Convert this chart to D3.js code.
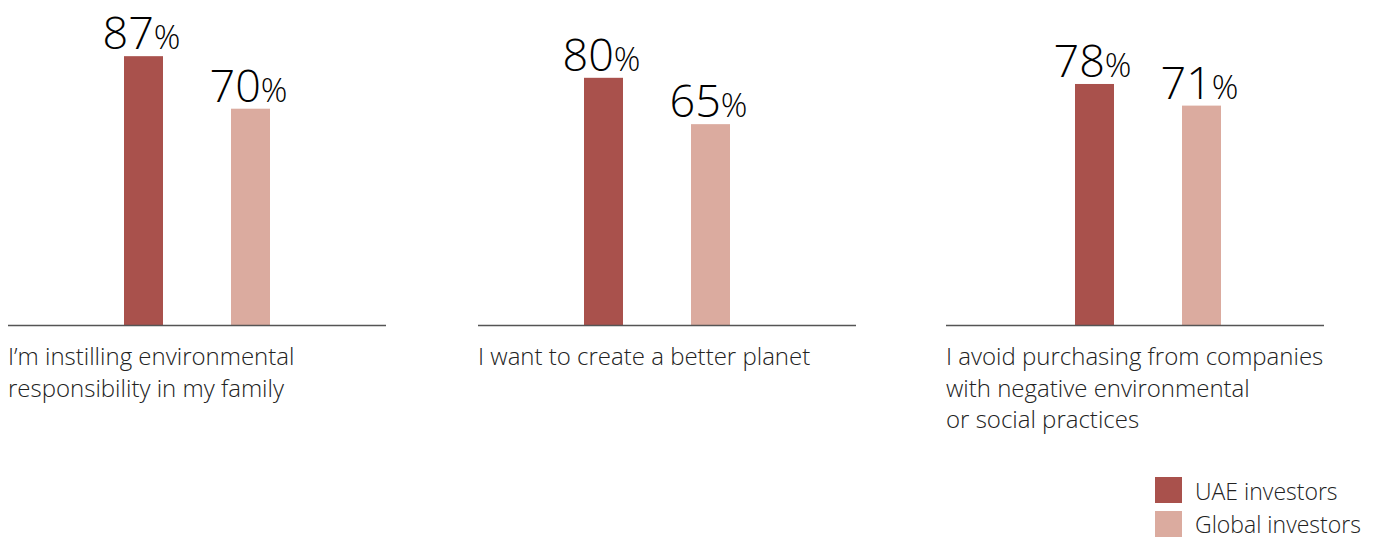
<!DOCTYPE html>
<html>
<head>
<meta charset="utf-8">
<script src="https://cdn.jsdelivr.net/npm/d3@7"></script>
<style>
  html, body { margin: 0; padding: 0; background: #fff; }
  svg { display: block; font-family: "Open Sans", "Noto Sans", sans-serif; }
</style>
</head>
<body>
<svg id="chart" width="1376" height="540"></svg>
<script>
// ---- data ----
const categories = [
  ["I\u2019m instilling environmental", "responsibility in my family"],
  ["I want to create a better planet"],
  ["I avoid purchasing from companies", "with negative environmental", "or social practices"]
];
const seriesNames = ["UAE investors", "Global investors"];
const uaeValues = [87, 80, 78];
const globalValues = [70, 65, 71];
const seriesColors = ["#a9514c", "#dbab9f"];

// ---- layout ----
const svg = d3.select("#chart");
const baseY = 325;
const panelStarts = [8, 478, 946];
const panelWidth = 378;
const barOffsets = [116, 106, 129];   // first bar offset inside each panel
const barW = 39;

const y = d3.scaleLinear().domain([0, 100]).range([baseY, baseY - 309]);
const xs = d3.scalePoint().domain(seriesNames).range([0, 107]);

const values = [uaeValues, globalValues];

categories.forEach((cat, i) => {
  const g = svg.append("g").attr("transform", `translate(${panelStarts[i]},0)`);
  const data = seriesNames.map((s, k) => ({ s, v: values[k][i], c: seriesColors[k] }));

  g.selectAll("rect.bar").data(data).join("rect")
    .attr("class", "bar")
    .attr("x", d => barOffsets[i] + xs(d.s))
    .attr("y", d => y(d.v))
    .attr("width", barW)
    .attr("height", d => baseY - y(d.v))
    .attr("fill", d => d.c);

  const lbl = g.selectAll("text.val").data(data).join("text")
    .attr("class", "val")
    .attr("x", d => barOffsets[i] + xs(d.s) + barW / 2 - 2)
    .attr("y", d => y(d.v) - 7)
    .attr("text-anchor", "middle")
    .attr("font-weight", 300)
    .attr("fill", "#000");
  lbl.append("tspan").attr("font-size", 45).text(d => d.v);
  lbl.append("tspan").attr("font-size", 33).text("%");

  g.append("line")
    .attr("x1", 0).attr("x2", panelWidth)
    .attr("y1", baseY + 0.5).attr("y2", baseY + 0.5)
    .attr("stroke", "#555").attr("stroke-width", 1.6);

  const t = g.append("text")
    .attr("x", 0).attr("y", 365)
    .attr("font-size", 24).attr("fill", "#222").attr("font-weight", 300);
  t.selectAll("tspan").data(cat).join("tspan")
    .attr("x", 0).attr("dy", (d, j) => j === 0 ? 0 : 31.5)
    .text(d => d);
});

// ---- legend ----
const leg = svg.append("g").attr("transform", "translate(1155,477)");
seriesNames.forEach((s, k) => {
  leg.append("rect").attr("x", 0).attr("y", k * 34).attr("width", 27).attr("height", 26)
    .attr("fill", seriesColors[k]);
  leg.append("text").attr("x", 40).attr("y", k * 33 + 23)
    .attr("font-size", 23).attr("fill", "#222").attr("font-weight", 300).text(s);
});
</script>
</body>
</html>
